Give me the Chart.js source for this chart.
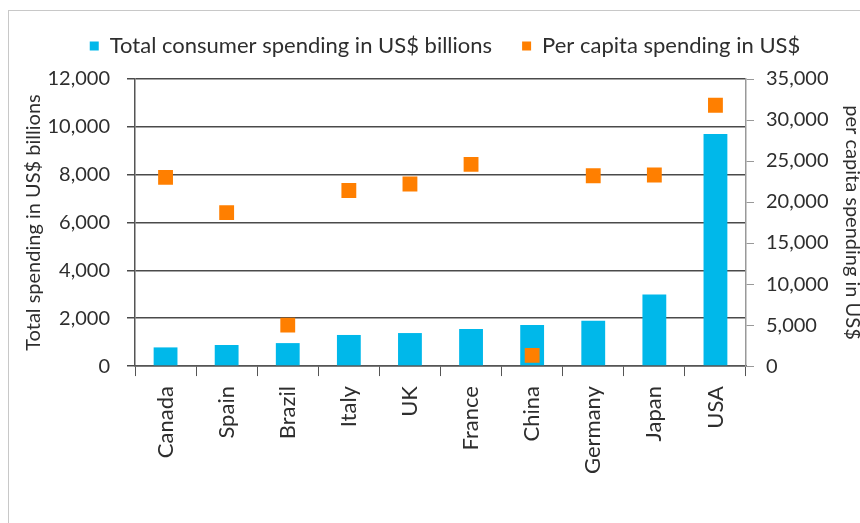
<!DOCTYPE html>
<html>
<head>
  <title>Consumer spending by country</title>
  <script src="https://cdn.jsdelivr.net/npm/chart.js"></script>
  <style>
    body {
      margin: 0;
      background-color: #fff;
      overflow: hidden;
    }
    .frame {
      position: absolute;
      left: 8px;
      top: 10px;
      width: 900px;
      height: 600px;
      border: 1px solid #c8c8c8;
    }
    #spendingChart {
      position: absolute;
      left: 0;
      top: 0;
    }
  </style>
</head>
<body>
  <div class="frame"></div>
  <canvas id="spendingChart" width="860" height="523"></canvas>

  <script>
    const countries = ['Canada', 'Spain', 'Brazil', 'Italy', 'UK', 'France', 'China', 'Germany', 'Japan', 'USA'];
    const totalSpending = [780, 880, 960, 1300, 1380, 1550, 1720, 1890, 2990, 9700];
    const perCapita = [23000, 18700, 5000, 21400, 22200, 24600, 1300, 23200, 23300, 31800];
    const leftTicks = [0, 2000, 4000, 6000, 8000, 10000, 12000];
    const rightTicks = [0, 5000, 10000, 15000, 20000, 25000, 30000, 35000];

    const fontName = "Lato, sans-serif";
    const textColor = '#2e2e2e';

    function fmt(v) {
      return v.toLocaleString('en-US');
    }

    // extra room under the legend
    const legendGap = {
      id: 'legendGap',
      beforeInit(chart) {
        const fit = chart.legend.fit;
        chart.legend.fit = function () {
          fit.bind(chart.legend)();
          this.height += 12;
        };
      }
    };

    const ctx = document.getElementById('spendingChart').getContext('2d');

    new Chart(ctx, {
      type: 'bar',
      data: {
        labels: countries,
        datasets: [{
          label: 'Total consumer spending in US$ billions',
          data: totalSpending,
          backgroundColor: '#00b8ea',
          yAxisID: 'y',
          barPercentage: 0.39,
          categoryPercentage: 1,
          order: 2
        }, {
          type: 'line',
          label: 'Per capita spending in US$',
          data: perCapita,
          showLine: false,
          pointStyle: 'rect',
          pointRadius: 10.5,
          pointHoverRadius: 10.5,
          backgroundColor: '#ff7f00',
          borderColor: '#ff7f00',
          borderWidth: 0,
          yAxisID: 'y1',
          order: 1
        }]
      },
      plugins: [legendGap],
      options: {
        responsive: false,
        animation: false,
        devicePixelRatio: 1,
        layout: {
          padding: { top: 5, left: 22, right: -8, bottom: 39 }
        },
        plugins: {
          legend: {
            position: 'top',
            labels: {
              boxWidth: 9,
              boxHeight: 9,
              padding: 30,
              color: textColor,
              font: { family: fontName, size: 22 },
              sort: (a, b) => a.datasetIndex - b.datasetIndex
            }
          },
          tooltip: { enabled: false }
        },
        scales: {
          x: {
            offset: true,
            grid: {
              offset: true,
              drawOnChartArea: false,
              drawTicks: true,
              tickLength: 10,
              color: '#555'
            },
            border: { color: '#555', width: 1.5 },
            ticks: {
              minRotation: 90,
              maxRotation: 90,
              color: textColor,
              padding: 10,
              font: { family: fontName, size: 22 }
            }
          },
          y: {
            position: 'left',
            min: 0,
            max: 12000,
            afterBuildTicks: axis => { axis.ticks = leftTicks.map(v => ({ value: v })); },
            afterFit: axis => { axis.width = 113; },
            grid: {
              color: '#4a4a4a',
              lineWidth: 1.5,
              tickLength: 8
            },
            border: { color: '#555', width: 1.5 },
            ticks: {
              color: textColor,
              padding: 17,
              font: { family: fontName, size: 20 },
              callback: v => fmt(v)
            },
            title: {
              display: true,
              text: 'Total spending in US$ billions',
              color: textColor,
              padding: 0,
              font: { family: fontName, size: 20 }
            }
          },
          y1: {
            position: 'right',
            min: 0,
            max: 35000,
            afterBuildTicks: axis => { axis.ticks = rightTicks.map(v => ({ value: v })); },
            afterFit: axis => { axis.width = 122; },
            grid: {
              drawOnChartArea: false,
              color: '#999',
              tickLength: 8
            },
            border: { color: '#999', width: 1.5 },
            ticks: {
              color: textColor,
              padding: 12,
              font: { family: fontName, size: 20 },
              callback: v => fmt(v)
            },
            title: {
              display: true,
              text: 'per capita spending in US$',
              color: textColor,
              padding: 4,
              font: { family: fontName, size: 20 }
            }
          }
        }
      }
    });
  </script>
</body>
</html>
